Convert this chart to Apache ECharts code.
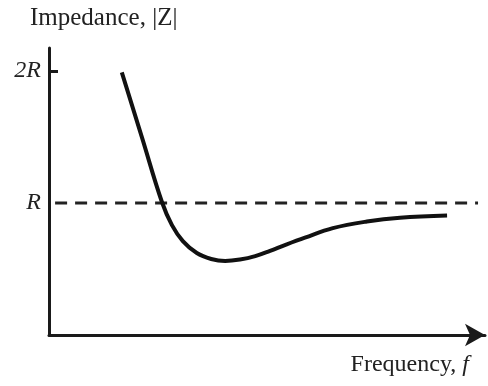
<!DOCTYPE html>
<html>
<head>
<meta charset="utf-8">
<script src="https://cdn.jsdelivr.net/npm/echarts@6/dist/echarts.min.js"></script>
<style>
  html, body { margin: 0; padding: 0; background: #fff; }
  #chart { width: 488px; height: 386px; }
</style>
</head>
<body>
<div id="chart"></div>
<script>
// Impedance magnitude |Z| (in units of R) against frequency (arbitrary units)
const frequency = [1.67, 2.13, 2.59, 2.82, 3.07, 3.39, 3.72, 4.04, 4.38, 4.73, 5.07, 5.41, 5.87, 6.51, 7.29, 8.05, 9.13];
const impedance = [1.99, 1.50, 1.008, 0.833, 0.712, 0.621, 0.576, 0.561, 0.572, 0.598, 0.638, 0.682, 0.738, 0.810, 0.860, 0.889, 0.905];

// Horizontal reference level |Z| = R
const refFrequency = [0.14, 9.84];
const refImpedance = [1, 1];

// Y-axis tick values and their labels
const tickValues = [1, 2];
const tickLabels = ['R', '2R'];
const tickMarks = [2];

const serif = '"Liberation Serif", "DejaVu Serif", serif';
const ink = '#1a1a1a';

const chart = echarts.init(document.getElementById('chart'), null, { renderer: 'canvas' });

chart.setOption({
  animation: false,
  backgroundColor: '#fff',
  grid: { left: 49, right: 3, top: 48, bottom: 51, containLabel: false },
  xAxis: {
    type: 'value',
    min: 0,
    max: 10,
    axisLine: {
      show: true,
      onZero: false,
      symbol: ['none', 'arrow'],
      symbolSize: [17, 20],
      lineStyle: { color: ink, width: 3 }
    },
    axisTick: { show: false },
    axisLabel: { show: false },
    splitLine: { show: false }
  },
  yAxis: {
    type: 'value',
    min: 0,
    max: 2.175,
    axisLine: { show: true, onZero: false, lineStyle: { color: ink, width: 3 } },
    axisTick: {
      show: true,
      inside: true,
      length: 9,
      customValues: tickMarks,
      lineStyle: { color: ink, width: 3 }
    },
    axisLabel: {
      show: true,
      customValues: tickValues,
      margin: 8,
      fontFamily: serif,
      fontStyle: 'italic',
      fontSize: 24,
      color: '#222',
      formatter: v => tickLabels[tickValues.indexOf(v)] || ''
    },
    splitLine: { show: false }
  },
  series: [
    {
      type: 'line',
      data: refFrequency.map((f, i) => [f, refImpedance[i]]),
      symbol: 'none',
      clip: false,
      silent: true,
      lineStyle: { color: '#222', width: 3, type: [12, 8] },
      z: 1
    },
    {
      type: 'line',
      data: frequency.map((f, i) => [f, impedance[i]]),
      smooth: 0.4,
      symbol: 'none',
      clip: false,
      lineStyle: { color: '#111', width: 4 },
      z: 2
    }
  ],
  graphic: [
    {
      type: 'text',
      left: 30,
      top: 6,
      style: {
        text: 'Impedance, |Z|',
        font: '25px ' + serif,
        fill: '#222'
      }
    },
    {
      type: 'text',
      right: 19,
      top: 353,
      style: {
        text: 'Frequency, {i|f}',
        font: '24px ' + serif,
        fill: '#222',
        rich: {
          i: { fontFamily: serif, fontSize: 24, fontStyle: 'italic', fill: '#222' }
        }
      }
    }
  ]
});
</script>
</body>
</html>
